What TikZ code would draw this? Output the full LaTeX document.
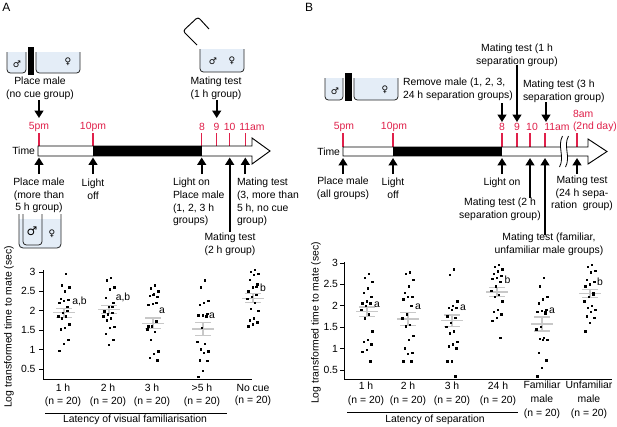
\documentclass[tikz,border=0pt]{standalone}
\usepackage{fontspec}
\setmainfont{Liberation Sans}
\newfontfamily\symf{DejaVu Sans}
\usetikzlibrary{arrows.meta}
\definecolor{tred}{HTML}{E0204A}
\definecolor{meangray}{HTML}{C8C8C8}
\definecolor{cageblue}{HTML}{E4EDF7}
\newcommand\dotcol[4]{%
  \foreach \v [count=\k] in {#4} {%
    \pgfmathsetmacro\dx{1.1*(mod(\k*7,11)-5)}%
    \pgfmathsetmacro\dy{#2-(\v-0.5)*#3}%
    \fill ({#1+\dx-1.2},{\dy-1.2}) rectangle ({#1+\dx+1.2},{\dy+1.2});%
  }}
\newcommand\meanbar[3]{%
  \draw[meanline] ({#1-11},#2) -- ({#1+11},#2);
  \draw[meanline] ({#1-8},{#2-#3}) -- ({#1+8},{#2-#3});
  \draw[meanline] ({#1-8},{#2+#3}) -- ({#1+8},{#2+#3});
  \draw[meanline] (#1,{#2-#3}) -- (#1,{#2+#3});}
\begin{document}
\begin{tikzpicture}[x=0.75pt,y=-0.75pt,
  every node/.style={inner sep=0pt, outer sep=0pt},
  txt/.style={align=center, font=\fontsize{7.8}{9.5}\selectfont},
  txtl/.style={align=left, anchor=west, font=\fontsize{7.8}{9.5}\selectfont},
  grp/.style={align=center, font=\fontsize{7.8}{10.3}\selectfont},
  redlbl/.style={text=tred, font=\fontsize{7.8}{9.5}\selectfont},
  panel/.style={font=\fontsize{9}{10}\selectfont},
  bigarrow/.style={line width=1.6pt, -{Triangle[width=6.5pt,length=5.5pt]}},
  redtick/.style={draw=tred, line width=0.9pt},
  meanline/.style={draw=meangray, line width=0.9pt},
  axisline/.style={line width=0.7pt},
  cage/.style={draw=black!85, line width=0.6pt, fill=cageblue, rounded corners=2.5pt},
  sym/.style={font=\symf\fontsize{6.8}{7}\selectfont},
  symbig/.style={font=\symf\fontsize{9}{9}\selectfont}
]
\useasboundingbox (0,0) rectangle (617,426);
\fill[white] (0,0) rectangle (617,426);

% ================= PANEL A =================
\node[panel] (labA) at (6.5,7) {A};

% top-left cage
\draw[cage] (7,52) -- (7,73) -- (26,73) -- (26,52);
\fill (28,47) rectangle (34,75);
\draw[cage] (36,52) -- (36,73) -- (80,73) -- (80,52);
\node[sym] (cA1m) at (17,64) {♂};
\node[sym] (cA1f) at (68,62) {♀};
\node[txt] (tA1) at (40,88) {Place male\\(no cue group)};

% mating test cage with lid
\draw[cage] (200,49) -- (200,72) -- (244,72) -- (244,49);
\draw[line width=0.7pt, rounded corners=2pt] (209,29) -- (198,17) -- (183,31) -- (197,45);
\node[sym] (cA2m) at (213,61) {♂};
\node[sym] (cA2f) at (232,61) {♀};
\node[txt] (tA2) at (216,88) {Mating test\\(1 h group)};

% time labels
\node[redlbl] (rA1) at (39,127) {5pm};
\node[redlbl] (rA2) at (93,127) {10pm};
\node[redlbl] (rA3) at (202,127) {8};
\node[redlbl] (rA4) at (216.5,127) {9};
\node[redlbl] (rA5) at (229.7,127) {10};
\node[redlbl] (rA6) at (252,127) {11am};
\foreach \x in {39,93,201.7,216.7,229.7,245.3} \draw[redtick] (\x,133) -- (\x,146);

% timeline A
\node[txt, anchor=east] (timeA) at (35,151) {Time};
\draw[line width=0.7pt, fill=white] (38,146) -- (252,146) -- (252,138) -- (270,151) -- (252,164) -- (252,156) -- (38,156) -- cycle;
\fill (93,146) rectangle (201.7,156);

% arrows A
\coordinate (dA1s) at (39,100); \coordinate (dA1e) at (39,118);
\coordinate (dA2s) at (216.7,100); \coordinate (dA2e) at (216.7,118);
\draw[bigarrow] (dA1s) -- (dA1e);
\draw[bigarrow] (dA2s) -- (dA2e);
\coordinate (uA1s) at (39,174); \coordinate (uA1e) at (39,157.5);
\coordinate (uA2s) at (93,174); \coordinate (uA2e) at (93,157.5);
\coordinate (uA3s) at (201.7,174); \coordinate (uA3e) at (201.7,157.5);
\coordinate (uA4s) at (229.7,232); \coordinate (uA4e) at (229.7,157.5);
\coordinate (uA5s) at (245.3,174); \coordinate (uA5e) at (245.3,157.5);
\foreach \n in {1,...,5} \draw[bigarrow] (uA\n s) -- (uA\n e);

\node[txt] (tA3) at (39,195.5) {Place male\\(more than\\5 h group)};
\node[txt] (tA4) at (93,189) {Light\\off};
\node[txtl] (tA5) at (173,202) {Light on\\Place male\\(1, 2, 3 h\\groups)};
\node[txtl] (tA6) at (237,202) {Mating test\\(3, more than\\5 h, no cue\\group)};
\node[txt] (tA7) at (230,244) {Mating test\\(2 h group)};

% lower cage
\fill[cageblue] (19,219) -- (19,246) -- (21,248) -- (59,248) -- (61,246) -- (61,219) -- cycle;
\draw[line width=0.6pt, draw=black!85, rounded corners=3pt] (19,214) -- (19,248) -- (61,248) -- (61,214);
\draw[line width=0.6pt, draw=black!85, rounded corners=2.5pt] (23,214) -- (23,245) -- (42,245) -- (42,214);
\node[symbig] (cA3m) at (32,231) {♂};
\node[sym] (cA3f) at (52,234) {♀};

% chart A axes
\draw[axisline] (43,270) -- (43,379) -- (252,379);
\foreach \v [count=\j] in {0.5,1,1.5,2,2.5,3} {
  \draw[axisline] (39,{369-(\v-0.5)*38.8}) -- (43,{369-(\v-0.5)*38.8});
  \node[txt, anchor=east] (ytA\j) at (35.5,{369-(\v-0.5)*38.8}) {\v};
}
\node[txt, rotate=90] (ylabA) at (9,327) {Log transformed time to mate (sec)};

% mean bars A
\meanbar{64}{312.7}{4.5}
\meanbar{109}{309.3}{4.2}
\meanbar{153}{323.3}{5.3}
\meanbar{203}{329}{6.5}
\meanbar{253}{298.3}{4.5}

% dots A
\dotcol{64}{369}{38.8}{2.95,2.65,2.6,2.5,2.3,2.28,2.25,2.2,2.1,1.95,1.85,1.85,1.8,1.65,1.55,1.52,1.25,1.15,0.97,2.0}
\dotcol{109}{369}{38.8}{2.85,2.78,2.6,2.55,2.33,2.2,2.1,1.98,1.95,1.9,1.85,1.8,1.75,1.58,1.55,1.4,1.25,1.12,2.0,2.1}
\dotcol{153}{369}{38.8}{2.65,2.58,2.5,2.42,2.38,2.35,2.18,2.15,1.72,1.6,1.52,1.45,1.25,0.95,0.88,0.78,0.72,2.4,1.6,2.2}
\dotcol{203}{369}{38.8}{2.78,2.6,2.25,2.2,2.15,1.92,1.88,1.88,1.85,1.55,1.2,1.15,1.0,0.95,0.92,0.72,0.7,0.45,0.3,1.85}
\dotcol{253}{369}{38.8}{3.05,3.0,2.95,2.92,2.8,2.68,2.6,2.5,2.4,2.35,2.3,2.2,2.05,2.0,1.8,1.75,1.7,1.65,1.6,2.62}

\node[txt] (sA1) at (79.5,301) {a,b};
\node[txt] (sA2) at (123,297.5) {a,b};
\node[txt] (sA3) at (162,311) {a};
\node[txt] (sA4) at (212,316) {a};
\node[txt] (sA5) at (263,288) {b};

\node[txt] (gA1) at (63,395) {1 h\\(n = 20)};
\node[txt] (gA2) at (108,395) {2 h\\(n = 20)};
\node[txt] (gA3) at (152,395) {3 h\\(n = 20)};
\node[txt] (gA4) at (202,395) {>5 h\\(n = 20)};
\node[txt] (gA5) at (253,395) {No cue\\(n = 20)};
\coordinate (lA1) at (45,413); \coordinate (lA2) at (227,413);
\draw[line width=0.7pt] (lA1) -- (lA2);
\node[txt] (latA) at (135,420) {Latency of visual familiarisation};

% ================= PANEL B =================
\node[panel] (labB) at (309,7) {B};

\draw[cage] (325,78) -- (325,100) -- (343,100) -- (343,78);
\fill (345,73) rectangle (352,101);
\draw[cage] (354,78) -- (354,100) -- (398,100) -- (398,78);
\node[sym] (cB1m) at (335,91) {♂};
\node[sym] (cB1f) at (385,90) {♀};
\node[txtl] (tB1) at (403,89.5) {Remove male (1, 2, 3,\\24 h separation groups)};
\node[txt] (tB2) at (517,55) {Mating test (1 h\\separation group)};
\node[txtl] (tB3) at (523,91) {Mating test (3 h\\separation group)};

\node[redlbl] (rB1) at (344,127) {5pm};
\node[redlbl] (rB2) at (394,127) {10pm};
\node[redlbl] (rB3) at (502,127) {8};
\node[redlbl] (rB4) at (517,127) {9};
\node[redlbl] (rB5) at (532,127) {10};
\node[redlbl] (rB6) at (557,127) {11am};
\node[redlbl, anchor=west] (rB7) at (573,114) {8am};
\node[redlbl, anchor=west] (rB8) at (573,127) {(2nd day)};
\foreach \x in {343,393,502,517,530,545,577} \draw[redtick] (\x,133) -- (\x,147);

\node[txt, anchor=east] (timeB) at (340,151.5) {Time};
\draw[line width=0.7pt, fill=white] (343,147) -- (588,147) -- (588,139) -- (607,151.5) -- (588,164) -- (588,156) -- (343,156) -- cycle;
\fill (393,147) rectangle (502,156);
% break
\fill[white] (562.5,136) .. controls (557,146) and (565,157) .. (559.5,167) -- (565.5,167) .. controls (571,157) and (563,146) .. (568.5,136) -- cycle;
\draw[line width=0.6pt] (562.5,136) .. controls (557,146) and (565,157) .. (559.5,167);
\draw[line width=0.6pt] (568.5,136) .. controls (563,146) and (571,157) .. (565.5,167);

\coordinate (dB1s) at (502,103); \coordinate (dB1e) at (502,122);
\coordinate (dB2s) at (517,65); \coordinate (dB2e) at (517,122);
\coordinate (dB3s) at (546,102); \coordinate (dB3e) at (546,122);
\foreach \n in {1,2,3} \draw[bigarrow] (dB\n s) -- (dB\n e);
\coordinate (uB1s) at (343,174); \coordinate (uB1e) at (343,158);
\coordinate (uB2s) at (393,174); \coordinate (uB2e) at (393,158);
\coordinate (uB3s) at (502,174); \coordinate (uB3e) at (502,158);
\coordinate (uB4s) at (530,198); \coordinate (uB4e) at (530,158);
\coordinate (uB5s) at (545,235); \coordinate (uB5e) at (545,158);
\coordinate (uB6s) at (577,174); \coordinate (uB6e) at (577,158);
\foreach \n in {1,...,6} \draw[bigarrow] (uB\n s) -- (uB\n e);

\node[txt] (tB4) at (343,188.5) {Place male\\(all groups)};
\node[txt] (tB5) at (393,188.5) {Light\\off};
\node[txt] (tB6) at (502,183) {Light on};
\node[txt] (tB7) at (500,209) {Mating test (2 h\\separation group)};
\node[txt] (tB8) at (582,193.5) {Mating test\\(24 h sepa-\\ration\ \ group)};
\node[txt] (tB9) at (549,244.5) {Mating test (familiar,\\unfamiliar male groups)};

% chart B axes
\draw[axisline] (344,262) -- (344,379) -- (612,379);
\foreach \v [count=\j] in {0.5,1,1.5,2,2.5,3} {
  \draw[axisline] (340,{370-(\v-0.5)*42.8}) -- (344,{370-(\v-0.5)*42.8});
  \node[txt, anchor=east] (ytB\j) at (338,{370-(\v-0.5)*42.8}) {\v};
}
\node[txt, rotate=90] (ylabB) at (316,323) {Log transformed time to mate (sec)};

\meanbar{367}{311.7}{4.7}
\meanbar{408}{319}{6.7}
\meanbar{452}{320.7}{5.8}
\meanbar{497}{292}{4.8}
\meanbar{542}{324}{7}
\meanbar{590}{293.3}{4}

\dotcol{367}{370}{42.8}{2.75,2.65,2.55,2.4,2.3,2.2,2.1,2.05,2.05,2.0,1.9,1.8,1.7,1.4,1.2,1.15,1.1,0.97,0.92,0.7}
\dotcol{408}{370}{42.8}{2.78,2.75,2.6,2.45,2.3,2.2,2.2,2.15,2.0,1.8,1.7,1.55,1.52,1.3,1.2,1.0,0.9,0.88,0.7,0.7}
\dotcol{452}{370}{42.8}{2.85,2.72,2.1,2.0,1.95,1.95,1.9,1.75,1.72,1.6,1.5,1.4,1.35,1.15,1.1,1.05,1.0,0.7,0.7,0.35}
\dotcol{497}{370}{42.8}{2.95,2.9,2.85,2.8,2.75,2.7,2.65,2.62,2.55,2.45,2.35,2.25,2.2,2.1,1.9,1.85,1.8,1.72,1.65,1.25}
\dotcol{542}{370}{42.8}{2.65,2.45,2.2,2.15,2.05,1.9,1.88,1.85,1.82,1.5,1.45,1.25,1.22,1.2,1.2,0.9,0.72,0.55,0.35,1.85}
\dotcol{590}{370}{42.8}{2.95,2.9,2.82,2.78,2.6,2.55,2.5,2.45,2.3,2.2,2.1,2.0,1.95,1.9,1.85,1.75,1.72,1.6,1.4,2.25}

\node[txt] (sB1) at (377,305) {a};
\node[txt] (sB2) at (418,307) {a};
\node[txt] (sB3) at (463,308) {a};
\node[txt] (sB4) at (507.5,280) {b};
\node[txt] (sB5) at (552,311) {a};
\node[txt] (sB6) at (600,282) {b};

\node[grp] (gB1) at (366,393.5) {1 h\\(n = 20)};
\node[grp] (gB2) at (408,393.5) {2 h\\(n = 20)};
\node[grp] (gB3) at (452,393.5) {3 h\\(n = 20)};
\node[grp] (gB4) at (498,393.5) {24 h\\(n = 20)};
\node[grp] (gB5) at (542,400) {Familiar\\male\\(n = 20)};
\node[grp] (gB6) at (589,400) {Unfamiliar\\male\\(n = 20)};
\coordinate (lB1) at (347,412); \coordinate (lB2) at (518,412);
\draw[line width=0.7pt] (lB1) -- (lB2);
\node[txt] (latB) at (435,420) {Latency of separation};
\end{tikzpicture}
\end{document}
